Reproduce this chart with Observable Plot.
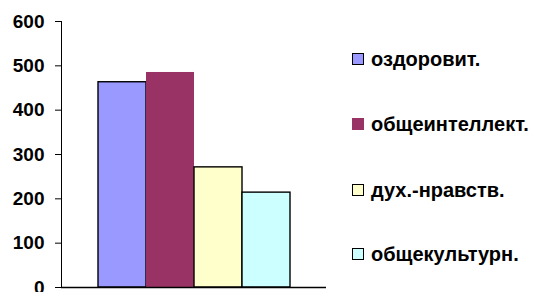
<!DOCTYPE html>
<html>
<head>
<meta charset="utf-8">
<script src="https://cdn.jsdelivr.net/npm/d3@7"></script>
<script src="https://cdn.jsdelivr.net/npm/@observablehq/plot@0.6"></script>
<style>
  html, body { margin: 0; padding: 0; background: #fff; }
  #wrap { position: relative; width: 540px; height: 292px; overflow: hidden; font-family: "Liberation Sans", Arial, sans-serif; }
  #legend { position: absolute; left: 352px; top: 0; }
  .row { position: absolute; left: 0; display: flex; align-items: center; white-space: nowrap; font-weight: bold; font-size: 20px; color: #000; height: 24px; }
  .sw { width: 10px; height: 10px; border: 1.5px solid #000; margin-right: 7px; flex: none; }
  #wrap svg text { font-size: 19px !important; font-weight: bold !important; }
</style>
</head>
<body>
<div id="wrap"></div>
<script>
const series = ["оздоровит.", "общеинтеллект.", "дух.-нравств.", "общекультурн."];
const values = [463, 485, 271, 214];
const colors = ["#9999FF", "#993366", "#FFFFCC", "#CCFFFF"];
const strokes = ["#000", "none", "#000", "#000"];
const yTicks = [0, 100, 200, 300, 400, 500, 600];

const data = series.map((s, i) => ({series: s, value: values[i], color: colors[i], stroke: strokes[i]}));

const chart = Plot.plot({
  width: 540,
  height: 292,
  marginLeft: 61,
  marginRight: 214,
  marginTop: 21,
  marginBottom: 5,
  style: {fontFamily: "'Liberation Sans', Arial, sans-serif", fontSize: "19px", fontWeight: "bold", color: "#000", background: "transparent", overflow: "visible"},
  x: {type: "band", domain: series, paddingInner: 0, paddingOuter: 0.76, axis: null},
  y: {domain: [0, 600], ticks: yTicks, tickSize: 6, tickPadding: 11, tickFormat: d => String(d), label: null, line: true},
  marks: [
    Plot.barY(data, {x: "series", y: "value", fill: d => d.color, stroke: d => d.stroke, strokeWidth: 1.4, inset: 0}),
    Plot.ruleY([0], {stroke: "#000", strokeWidth: 1.4})
  ]
});
document.getElementById("wrap").appendChild(chart);

const legend = document.createElement("div");
legend.id = "legend";
const rowCenters = [59, 124, 190, 254];
series.forEach((s, i) => {
  const row = document.createElement("div");
  row.className = "row";
  row.style.top = (rowCenters[i] - 12) + "px";
  const sw = document.createElement("span");
  sw.className = "sw";
  sw.style.background = colors[i];
  if (strokes[i] === "none") sw.style.borderColor = colors[i];
  const t = document.createElement("span");
  t.textContent = s;
  row.appendChild(sw);
  row.appendChild(t);
  legend.appendChild(row);
});
document.getElementById("wrap").appendChild(legend);
</script>
</body>
</html>
